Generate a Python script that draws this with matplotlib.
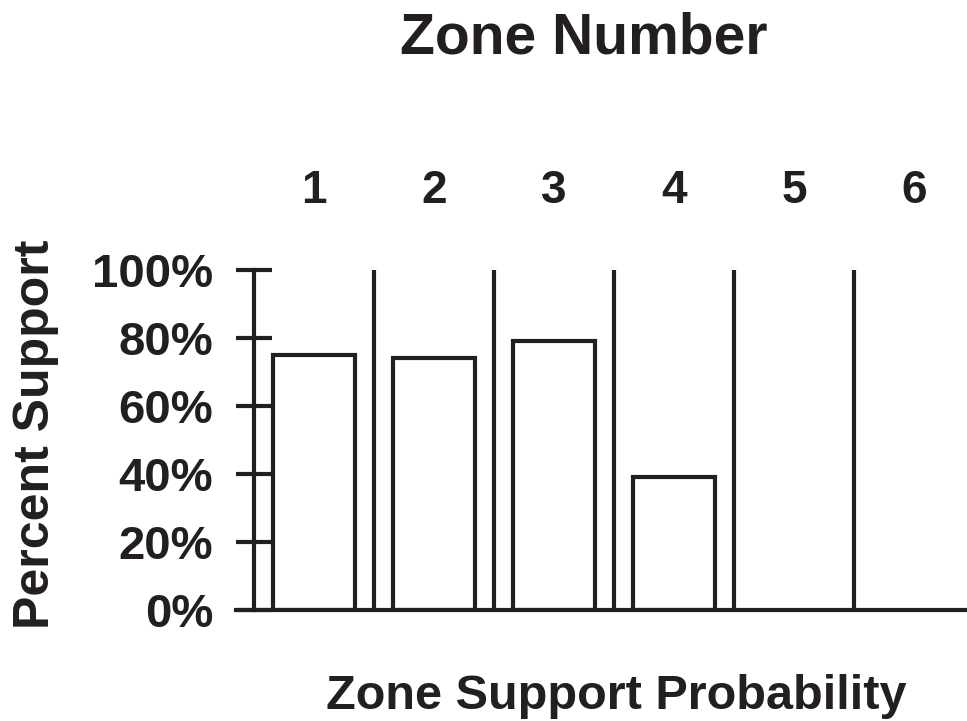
import numpy as np
import matplotlib
matplotlib.use("Agg")
import matplotlib.pyplot as plt

zones = ["1", "2", "3", "4", "5", "6"]
support = [75, 74, 79, 39, 0, 0]
yticks = [0, 20, 40, 60, 80, 100]

ink = "#231f20"
plt.rcParams['font.family'] = ['Liberation Sans', 'DejaVu Sans']
plt.rcParams['font.weight'] = 'bold'

fig = plt.figure(figsize=(9.67, 7.21), dpi=100)
ax = fig.add_axes([236 / 967, 111 / 721, 729 / 967, 340 / 721])

centers = np.arange(len(zones)) + 0.5
shown = [i for i, v in enumerate(support) if v > 0]
ax.bar(centers[shown], [support[i] for i in shown], width=0.68,
       facecolor="white", edgecolor=ink, linewidth=3, zorder=2)

# zone separators
ax.vlines(np.arange(1, len(zones)), 0, 100, color=ink, linewidth=3, zorder=3)

ax.set_xlim(-0.15, 5.925)
ax.set_ylim(0, 100)

for s in ["top", "right"]:
    ax.spines[s].set_visible(False)
ax.spines["left"].set_position(("data", 0))
ax.spines["left"].set_linewidth(3)
ax.spines["bottom"].set_linewidth(3)
ax.spines["left"].set_color(ink)
ax.spines["bottom"].set_color(ink)

ax.set_yticks(yticks)
ax.set_yticklabels(["%d%%" % v for v in yticks])
ax.tick_params(axis="y", direction="inout", length=26, width=3, color=ink,
               pad=16.5, labelsize=34, labelcolor=ink)

ax.xaxis.tick_top()
ax.set_xticks(centers)
ax.set_xticklabels(zones)
ax.tick_params(axis="x", length=0, pad=41, labelsize=33, labelcolor=ink)

fig.text(584 / 967, 1 - 53 / 721, "Zone Number", ha="center", va="baseline",
         fontsize=41, fontweight="bold", color=ink)
fig.text(616 / 967, 1 - 709 / 721, "Zone Support Probability", ha="center",
         va="baseline", fontsize=35, fontweight="bold", color=ink)
fig.text(36 / 967, 1 - 434 / 721, "Percent Support", ha="center", va="center",
         rotation=90, fontsize=36, fontweight="bold", color=ink)

fig.savefig("out.png", dpi=100, facecolor="white")
